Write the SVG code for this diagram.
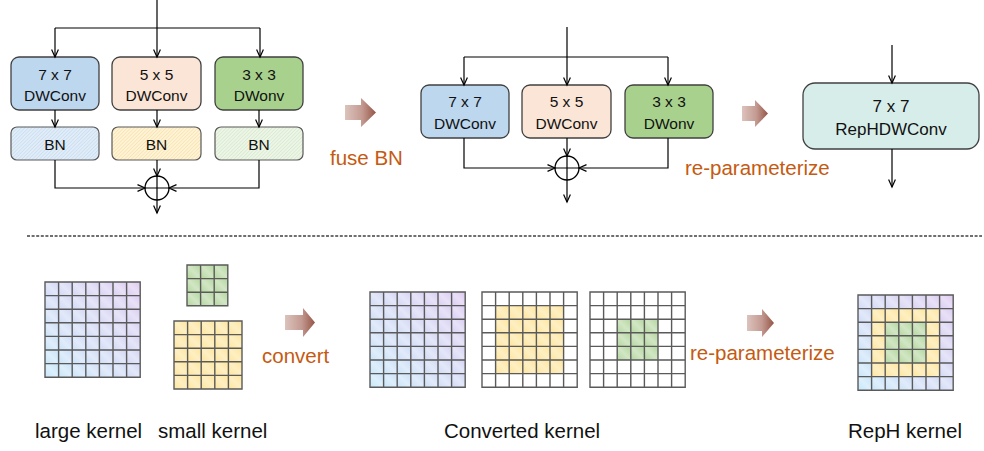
<svg xmlns="http://www.w3.org/2000/svg" width="984" height="451" viewBox="0 0 984 451">
<style>
  .t { font-family: "Liberation Sans", Arial, sans-serif; fill: #111; }
  .box { stroke: #404040; stroke-width: 1.3; }
  .bn { stroke: #595959; stroke-width: 1.2; }
  .con { fill: none; stroke: #000; stroke-width: 1.2; }
  .arr { marker-end: url(#ah); }
  .or { font-family: "Liberation Sans", Arial, sans-serif; font-size: 20.5px; fill: #c55a11; }
  .lab { font-family: "Liberation Sans", Arial, sans-serif; font-size: 20.5px; fill: #111; }
  .grid { fill: none; stroke: #5a5a5a; stroke-width: 1.4; }
</style>
<defs>
  <marker id="ah" viewBox="0 0 10 8" markerWidth="10" markerHeight="8" refX="8.3" refY="4" orient="auto" markerUnits="userSpaceOnUse">
    <path d="M0.8,0.6 L8.3,4 L0.8,7.4" fill="none" stroke="#000" stroke-width="1.2"/>
  </marker>
  <linearGradient id="blk" x1="0" y1="0" x2="1" y2="0">
    <stop offset="0" stop-color="#dcc3bd"/>
    <stop offset="0.55" stop-color="#c39a91"/>
    <stop offset="1" stop-color="#955446"/>
  </linearGradient>
  <linearGradient id="bp" x1="0" y1="1" x2="1" y2="0">
    <stop offset="0" stop-color="#c4e8fa"/>
    <stop offset="1" stop-color="#ddc8f0"/>
  </linearGradient>
  <linearGradient id="sg" x1="0" y1="1" x2="1" y2="0">
    <stop offset="0" stop-color="#fff" stop-opacity="0"/>
    <stop offset="0.5" stop-color="#fff" stop-opacity="0.4"/>
    <stop offset="1" stop-color="#fff" stop-opacity="0"/>
  </linearGradient>
  <pattern id="sheen" width="13.6" height="13.6" patternUnits="userSpaceOnUse">
    <rect width="13.6" height="13.6" fill="url(#sg)"/>
  </pattern>
  <pattern id="hb" width="2.5" height="2.5" patternUnits="userSpaceOnUse" patternTransform="rotate(45)">
    <rect width="2.5" height="2.5" fill="#e2edf8"/>
    <line x1="0.5" y1="0" x2="0.5" y2="2.5" stroke="#c8dcef" stroke-width="0.8"/>
  </pattern>
  <pattern id="hy" width="2.5" height="2.5" patternUnits="userSpaceOnUse" patternTransform="rotate(45)">
    <rect width="2.5" height="2.5" fill="#fff4da"/>
    <line x1="0.5" y1="0" x2="0.5" y2="2.5" stroke="#f8e2a8" stroke-width="0.8"/>
  </pattern>
  <pattern id="hg" width="2.5" height="2.5" patternUnits="userSpaceOnUse" patternTransform="rotate(45)">
    <rect width="2.5" height="2.5" fill="#eef6e9"/>
    <line x1="0.5" y1="0" x2="0.5" y2="2.5" stroke="#d6e8cb" stroke-width="0.8"/>
  </pattern>
  <path id="g7" d="M0 0H95.2V95.2H0Z M13.6 0V95.2 M27.2 0V95.2 M40.8 0V95.2 M54.4 0V95.2 M68 0V95.2 M81.6 0V95.2 M0 13.6H95.2 M0 27.2H95.2 M0 40.8H95.2 M0 54.4H95.2 M0 68H95.2 M0 81.6H95.2"/>
  <path id="g5" d="M0 0H68V68H0Z M13.6 0V68 M27.2 0V68 M40.8 0V68 M54.4 0V68 M0 13.6H68 M0 27.2H68 M0 40.8H68 M0 54.4H68"/>
  <path id="g3" d="M0 0H40.8V40.8H0Z M13.6 0V40.8 M27.2 0V40.8 M0 13.6H40.8 M0 27.2H40.8"/>
</defs>

<rect width="984" height="451" fill="#fff"/>

<!-- Top-left block -->
<g id="L_dw7">
  <rect class="box" x="11" y="57" width="88" height="53" rx="8" fill="#bdd7ee"/>
  <text class="t" x="55" y="80" font-size="15.5" text-anchor="middle">7 x 7</text>
  <text class="t" x="55" y="101" font-size="15.5" text-anchor="middle">DWConv</text>
</g>
<g id="L_dw5">
  <rect class="box" x="112" y="57" width="89" height="53" rx="8" fill="#fbe5d6"/>
  <text class="t" x="156.5" y="80" font-size="15.5" text-anchor="middle">5 x 5</text>
  <text class="t" x="156.5" y="101" font-size="15.5" text-anchor="middle">DWConv</text>
</g>
<g id="L_dw3">
  <rect class="box" x="215" y="57" width="88" height="53" rx="8" fill="#a9d18e"/>
  <text class="t" x="259" y="80" font-size="15.5" text-anchor="middle">3 x 3</text>
  <text class="t" x="259" y="101" font-size="15.5" text-anchor="middle">DWonv</text>
</g>
<g id="L_bn7">
  <rect class="bn" x="11" y="127" width="88" height="33" rx="6" fill="url(#hb)"/>
  <text class="t" x="55" y="149.5" font-size="15.5" text-anchor="middle">BN</text>
</g>
<g id="L_bn5">
  <rect class="bn" x="112" y="127" width="89" height="33" rx="6" fill="url(#hy)"/>
  <text class="t" x="156.5" y="149.5" font-size="15.5" text-anchor="middle">BN</text>
</g>
<g id="L_bn3">
  <rect class="bn" x="215" y="127" width="88" height="33" rx="6" fill="url(#hg)"/>
  <text class="t" x="259" y="149.5" font-size="15.5" text-anchor="middle">BN</text>
</g>
<g id="L_sum">
  <circle cx="157" cy="188" r="12" fill="#fff" stroke="#000" stroke-width="1.3"/>
  <path d="M145 188H169 M157 176V200" stroke="#000" stroke-width="1.2"/>
</g>

<!-- Top-middle block -->
<g id="M_dw7">
  <rect class="box" x="421" y="85" width="88" height="53" rx="8" fill="#bdd7ee"/>
  <text class="t" x="465" y="107" font-size="15.5" text-anchor="middle">7 x 7</text>
  <text class="t" x="465" y="129" font-size="15.5" text-anchor="middle">DWConv</text>
</g>
<g id="M_dw5">
  <rect class="box" x="522" y="85" width="89" height="53" rx="8" fill="#fbe5d6"/>
  <text class="t" x="566.5" y="107" font-size="15.5" text-anchor="middle">5 x 5</text>
  <text class="t" x="566.5" y="129" font-size="15.5" text-anchor="middle">DWConv</text>
</g>
<g id="M_dw3">
  <rect class="box" x="625" y="85" width="88" height="53" rx="8" fill="#a9d18e"/>
  <text class="t" x="669" y="107" font-size="15.5" text-anchor="middle">3 x 3</text>
  <text class="t" x="669" y="129" font-size="15.5" text-anchor="middle">DWonv</text>
</g>
<g id="M_sum">
  <circle cx="567" cy="168" r="12" fill="#fff" stroke="#000" stroke-width="1.3"/>
  <path d="M555 168H579 M567 156V180" stroke="#000" stroke-width="1.2"/>
</g>

<!-- Top-right block -->
<g id="R_rep">
  <rect class="box" x="803" y="83" width="176" height="66" rx="12" fill="#d7edea"/>
  <text class="t" x="891" y="112" font-size="17" text-anchor="middle">7 x 7</text>
  <text class="t" x="891" y="135" font-size="17" text-anchor="middle">RepHDWConv</text>
</g>

<!-- Connectors -->
<g id="connectors">
  <path class="con" d="M157 0V28 M55 28H260"/>
  <path class="con arr" d="M157 28V57"/>
  <path class="con arr" d="M55 28V57"/>
  <path class="con arr" d="M260 28V57"/>
  <path class="con arr" d="M55 110V127"/>
  <path class="con arr" d="M157 110V127"/>
  <path class="con arr" d="M259 110V127"/>
  <path class="con arr" d="M55 160V188H145"/>
  <path class="con arr" d="M259 160V188H169"/>
  <path class="con arr" d="M157 160V176"/>
  <path class="con arr" d="M157 200V213"/>

  <path class="con" d="M567 27V57 M464 57H668"/>
  <path class="con arr" d="M567 57V85"/>
  <path class="con arr" d="M464 57V85"/>
  <path class="con arr" d="M668 57V85"/>
  <path class="con arr" d="M464 138V168H555"/>
  <path class="con arr" d="M668 138V168H579"/>
  <path class="con arr" d="M567 138V156"/>
  <path class="con arr" d="M567 180V202"/>

  <path class="con arr" d="M892 45V83"/>
  <path class="con arr" d="M892 149V187"/>
</g>

<!-- Block arrows and orange labels -->
<g id="fuse_arrow">
  <path d="M345 105H361V98L376 112.5L361 127V120H345Z" fill="url(#blk)"/>
  <text class="or" x="330" y="165">fuse BN</text>
</g>
<g id="reparam_top">
  <path d="M742 106H755V100L768 113.5L755 127V121H742Z" fill="url(#blk)"/>
  <text class="or" x="685" y="175">re-parameterize</text>
</g>

<!-- Divider -->
<line x1="27" y1="236" x2="982" y2="236" stroke="#404040" stroke-width="1.3" stroke-dasharray="3 1.6"/>

<!-- Bottom kernels -->
<g id="large_kernel" transform="translate(45,282)">
  <rect width="95.2" height="95.2" fill="url(#bp)"/>
  <rect width="95.2" height="95.2" fill="url(#sheen)"/>
  <use href="#g7" class="grid"/>
</g>
<g id="small_kernel3" transform="translate(187,265)">
  <rect width="40.8" height="40.8" fill="#b3d69d"/>
  <rect width="40.8" height="40.8" fill="url(#sheen)"/>
  <use href="#g3" class="grid"/>
</g>
<g id="small_kernel5" transform="translate(174,321)">
  <rect width="68" height="68" fill="#fee59b"/>
  <rect width="68" height="68" fill="url(#sheen)"/>
  <use href="#g5" class="grid"/>
</g>
<g id="convert_arrow">
  <path d="M285 315H303V308L315 322.5L303 337V330H285Z" fill="url(#blk)"/>
  <text class="or" x="262" y="363">convert</text>
</g>
<g id="conv_k7" transform="translate(370,292)">
  <rect width="95.2" height="95.2" fill="url(#bp)"/>
  <rect width="95.2" height="95.2" fill="url(#sheen)"/>
  <use href="#g7" class="grid"/>
</g>
<g id="conv_k5" transform="translate(482,292)">
  <rect width="95.2" height="95.2" fill="#fff"/>
  <rect x="13.6" y="13.6" width="68" height="68" fill="#fee59b"/>
  <rect x="13.6" y="13.6" width="68" height="68" fill="url(#sheen)"/>
  <use href="#g7" class="grid"/>
</g>
<g id="conv_k3" transform="translate(590,292)">
  <rect width="95.2" height="95.2" fill="#fff"/>
  <rect x="27.2" y="27.2" width="40.8" height="40.8" fill="#b3d69d"/>
  <rect x="27.2" y="27.2" width="40.8" height="40.8" fill="url(#sheen)"/>
  <use href="#g7" class="grid"/>
</g>
<g id="reparam_bottom">
  <path d="M747 315H762V309L774 323L762 337V331H747Z" fill="url(#blk)"/>
  <text class="or" x="690" y="360">re-parameterize</text>
</g>
<g id="reph_kernel" transform="translate(858,295)">
  <rect width="95.2" height="95.2" fill="url(#bp)"/>
  <rect x="13.6" y="13.6" width="68" height="68" fill="#fee59b"/>
  <rect x="27.2" y="27.2" width="40.8" height="40.8" fill="#b3d69d"/>
  <rect width="95.2" height="95.2" fill="url(#sheen)"/>
  <use href="#g7" class="grid"/>
</g>

<!-- Bottom labels -->
<g id="labels">
  <text class="lab" x="35" y="438">large kernel</text>
  <text class="lab" x="158" y="438">small kernel</text>
  <text class="lab" x="444" y="438">Converted kernel</text>
  <text class="lab" x="848" y="438">RepH kernel</text>
</g>
</svg>
